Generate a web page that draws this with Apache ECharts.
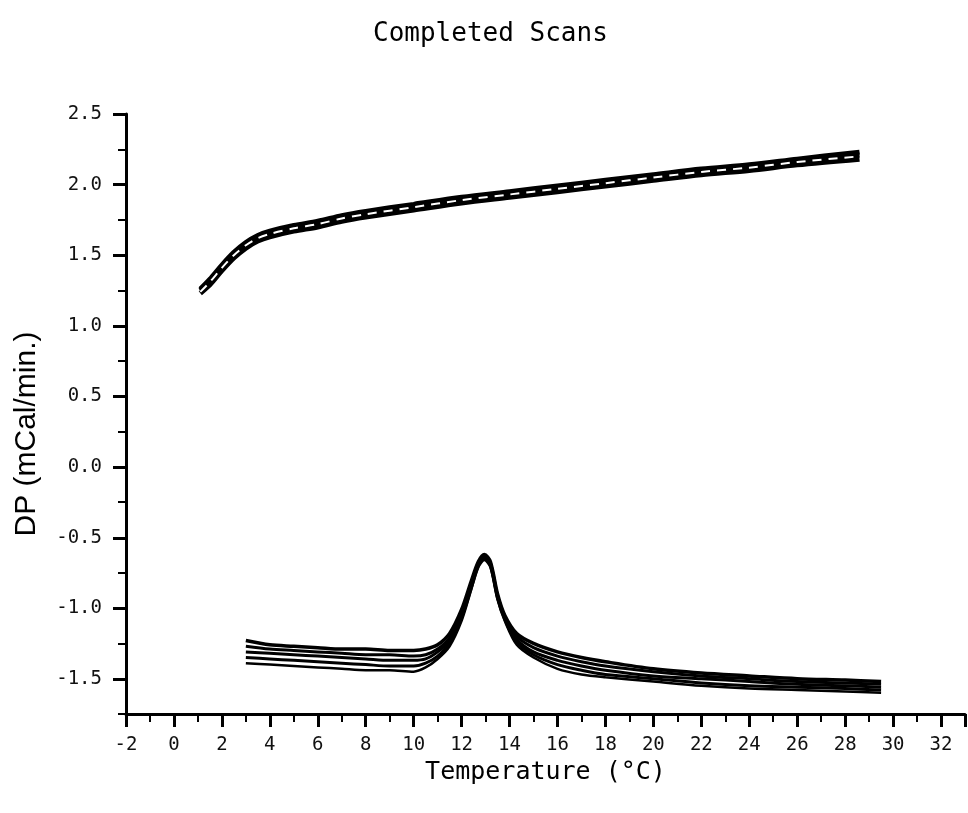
<!DOCTYPE html>
<html>
<head>
<meta charset="utf-8">
<title>Completed Scans</title>
<script src="https://cdn.jsdelivr.net/npm/echarts@6/dist/echarts.min.js"></script>
<style>
  html, body { margin: 0; padding: 0; background: #fff; }
  #main { width: 968px; height: 813px; }
</style>
</head>
<body>
<div id="main"></div>
<script>
// upper scans (heating baseline)
const upX = [1.1, 1.5, 2, 2.5, 3, 3.5, 4, 5, 6, 7, 8, 10, 12, 14, 16, 18, 20, 22, 24, 26, 28.6];
const up1 = [1.26, 1.33, 1.43, 1.52, 1.59, 1.64, 1.67, 1.71, 1.74, 1.78, 1.81, 1.86, 1.91, 1.95, 1.99, 2.03, 2.07, 2.11, 2.14, 2.18, 2.23];
const up2 = [1.25, 1.32, 1.42, 1.51, 1.58, 1.63, 1.66, 1.70, 1.73, 1.77, 1.80, 1.85, 1.90, 1.94, 1.98, 2.02, 2.06, 2.10, 2.13, 2.17, 2.21];
const up3 = [1.24, 1.31, 1.41, 1.50, 1.57, 1.62, 1.65, 1.69, 1.72, 1.76, 1.79, 1.84, 1.89, 1.93, 1.97, 2.01, 2.05, 2.09, 2.12, 2.16, 2.20];
const up4 = [1.23, 1.29, 1.39, 1.48, 1.55, 1.60, 1.63, 1.67, 1.70, 1.74, 1.77, 1.82, 1.87, 1.91, 1.95, 1.99, 2.03, 2.07, 2.10, 2.14, 2.18];

// lower scans (transition peak ~13 C)
const lowX = [3, 4, 5, 6, 7, 8, 9, 10, 10.5, 11, 11.5, 12, 12.4, 12.7, 12.95, 13.2, 13.5, 13.8, 14.3, 15, 16, 17, 18, 20, 22, 24, 26, 28, 29.5];
const low1 = [-1.23, -1.26, -1.27, -1.28, -1.29, -1.29, -1.30, -1.30, -1.29, -1.26, -1.18, -1.01, -0.81, -0.67, -0.62, -0.67, -0.90, -1.05, -1.18, -1.25, -1.31, -1.35, -1.38, -1.43, -1.46, -1.48, -1.50, -1.51, -1.52];
const low2 = [-1.27, -1.29, -1.30, -1.31, -1.32, -1.33, -1.33, -1.34, -1.33, -1.29, -1.21, -1.03, -0.83, -0.68, -0.63, -0.68, -0.91, -1.06, -1.20, -1.28, -1.34, -1.38, -1.41, -1.45, -1.48, -1.50, -1.52, -1.53, -1.54];
const low3 = [-1.31, -1.32, -1.33, -1.34, -1.35, -1.36, -1.37, -1.37, -1.36, -1.31, -1.23, -1.05, -0.84, -0.69, -0.64, -0.69, -0.92, -1.07, -1.22, -1.31, -1.37, -1.41, -1.44, -1.48, -1.50, -1.52, -1.54, -1.55, -1.56];
const low4 = [-1.35, -1.36, -1.37, -1.38, -1.39, -1.40, -1.41, -1.41, -1.39, -1.34, -1.25, -1.07, -0.86, -0.70, -0.65, -0.70, -0.93, -1.08, -1.24, -1.33, -1.40, -1.44, -1.47, -1.50, -1.53, -1.55, -1.56, -1.57, -1.58];
const low5 = [-1.39, -1.40, -1.41, -1.42, -1.43, -1.44, -1.44, -1.45, -1.42, -1.36, -1.27, -1.09, -0.87, -0.71, -0.66, -0.71, -0.94, -1.09, -1.26, -1.35, -1.43, -1.47, -1.49, -1.52, -1.55, -1.57, -1.58, -1.59, -1.60];

const monoFont = '"DejaVu Sans Mono", monospace';

function pairs(xs, ys) {
  return xs.map(function (x, i) { return [x, ys[i]]; });
}

function scan(name, xs, ys, color, width, dash) {
  return {
    name: name,
    type: 'line',
    xAxisIndex: 0,
    yAxisIndex: 0,
    data: pairs(xs, ys),
    showSymbol: false,
    smooth: 0.3,
    silent: true,
    lineStyle: { color: color, width: width, type: dash || 'solid' },
  };
}

const chart = echarts.init(document.getElementById('main'), null, { renderer: 'canvas' });

const option = {
  animation: false,
  backgroundColor: '#fff',
  title: {
    text: 'Completed Scans',
    left: 368,
    top: 16,
    textStyle: { fontFamily: monoFont, fontSize: 26, fontWeight: 'normal', color: '#000' },
  },
  grid: [
    { left: 126, right: -10, top: 114, bottom: 99 },
    { left: 126, right: -10, top: 114, bottom: 134 },
  ],
  xAxis: [
    { // minor ticks + axis line
      type: 'value', gridIndex: 0, min: -2, max: 33, interval: 1,
      axisLine: { show: true, onZero: false, lineStyle: { color: '#000', width: 3 } },
      axisTick: { show: true, length: 8, lineStyle: { color: '#000', width: 2 } },
      axisLabel: { show: false },
      splitLine: { show: false },
    },
    { // major ticks + labels
      type: 'value', gridIndex: 0, position: 'bottom', min: -2, max: 33, interval: 2,
      axisLine: { show: false, onZero: false },
      axisTick: { show: true, length: 13, lineStyle: { color: '#000', width: 3 } },
      axisLabel: {
        show: true, margin: 22, color: '#111', fontFamily: monoFont, fontSize: 19,
        formatter: function (v) { return v > 32 ? '' : String(v); },
      },
      splitLine: { show: false },
      name: 'Temperature (°C)',
      nameLocation: 'middle',
      nameGap: 46,
      nameTextStyle: { fontFamily: monoFont, fontSize: 25, color: '#000' },
    },
    {
      type: 'value', gridIndex: 1, min: -2, max: 33, show: false,
      axisLine: { onZero: false },
    },
  ],
  yAxis: [
    { // minor ticks + axis line
      type: 'value', gridIndex: 0, min: -1.75, max: 2.5, interval: 0.25,
      axisLine: { show: true, onZero: false, lineStyle: { color: '#000', width: 3 } },
      axisTick: { show: true, length: 8, lineStyle: { color: '#000', width: 2 } },
      axisLabel: { show: false },
      splitLine: { show: false },
      name: 'DP (mCal/min.)',
      nameLocation: 'middle',
      nameGap: 84,
      nameRotate: 90,
      nameTextStyle: { fontFamily: '"Liberation Sans", Arial, sans-serif', fontSize: 30, color: '#000', padding: [0, 40, 0, 0] },
    },
    { // major ticks + labels
      type: 'value', gridIndex: 1, min: -1.5, max: 2.5, interval: 0.5,
      axisLine: { show: false, onZero: false },
      axisTick: { show: true, length: 13, lineStyle: { color: '#000', width: 3 } },
      axisLabel: {
        show: true, margin: 24, color: '#111', fontFamily: monoFont, fontSize: 19,
        formatter: function (v) { return v.toFixed(1); },
      },
      splitLine: { show: false },
    },
  ],
  series: [
    scan('up1', upX, up1, '#000', 5),
    scan('up2', upX, up2, '#000', 5),
    scan('up4', upX, up4, '#000', 5),
    scan('up3', upX, up3, '#fff', 2, [9, 7]),
    scan('low1', lowX, low1, '#000', 3.5),
    scan('low2', lowX, low2, '#000', 3),
    scan('low3', lowX, low3, '#000', 3),
    scan('low4', lowX, low4, '#000', 3),
    scan('low5', lowX, low5, '#000', 2.5),
  ],
};

chart.setOption(option);
</script>
</body>
</html>
